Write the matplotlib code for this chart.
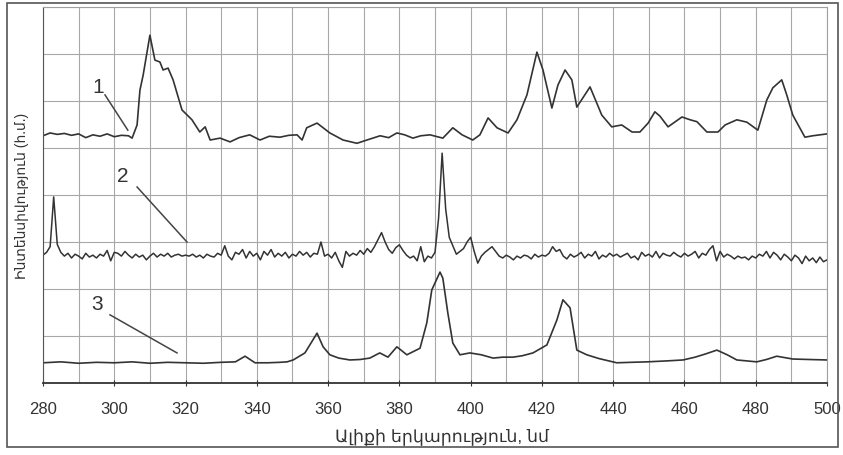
import numpy as np
import matplotlib
matplotlib.use("Agg")
import matplotlib.pyplot as plt
from matplotlib.patches import Rectangle

plt.rcParams['font.family'] = ['Liberation Sans', 'DejaVu Sans']

# Data

x_label = "Ալիքի երկարություն, նմ"
y_label = "Ինտենսիվություն (հ.մ.)"
x_ticks = [280, 300, 320, 340, 360, 380, 400, 420, 440, 460, 480, 500]

# curve 1
wl1 = [280, 282, 284, 286, 288, 290, 292, 294, 296, 298, 300, 302, 304, 305,
       306.4, 307.2, 308.1, 310, 311.4, 312.8, 313.7, 315.1, 316.5, 319, 321.8,
       324, 325.5, 326.9, 329.7, 332.5, 335, 338, 340.9, 343.5, 346.5, 349, 351.3,
       352.7, 354, 356.9, 360.5, 364.2, 368.1, 370.9, 374.6, 377, 379.3, 381.5,
       383.8, 386, 388.6, 392.2, 395, 397.6, 400.6, 402.6, 404.9, 407.4, 410.5,
       413, 415.8, 418.6, 420.3, 422.8, 424.5, 426.5, 428.4, 429.8, 433.5, 436.8,
       439.6, 442.4, 445.3, 447.5, 449.8, 451.7, 453.1, 455.4, 459.3, 461.6, 463.5,
       466.3, 469.4, 471.4, 474.7, 477.5, 480.6, 483.1, 484.8, 487.3, 488.7, 490.4,
       493.8, 496, 498, 500]
int1 = [5.26, 5.32, 5.29, 5.31, 5.27, 5.30, 5.22, 5.28, 5.25, 5.30, 5.24, 5.27, 5.26, 5.21,
        5.49, 6.23, 6.55, 7.40, 6.87, 6.83, 6.66, 6.70, 6.45, 5.81, 5.60,
        5.34, 5.45, 5.17, 5.21, 5.13, 5.22, 5.28, 5.17, 5.25, 5.23, 5.27, 5.28,
        5.17, 5.43, 5.53, 5.32, 5.17, 5.10, 5.17, 5.26, 5.22, 5.32, 5.28,
        5.21, 5.26, 5.28, 5.21, 5.43, 5.28, 5.17, 5.28, 5.64, 5.43, 5.32,
        5.60, 6.13, 7.04, 6.66, 5.85, 6.34, 6.66, 6.45, 5.87, 6.30, 5.70,
        5.45, 5.49, 5.34, 5.34, 5.53, 5.77, 5.68, 5.45, 5.66, 5.60, 5.56,
        5.34, 5.34, 5.49, 5.60, 5.55, 5.38, 6.02, 6.28, 6.45, 6.13, 5.70,
        5.23, 5.26, 5.28, 5.30]

# curve 2 (1 nm step)
wl2 = list(range(280, 501))
int2 = [2.72, 2.78, 2.90, 3.96, 2.95, 2.78, 2.70, 2.76, 2.66, 2.74, 2.70, 2.64, 2.76, 2.68, 2.72, 2.66, 2.74, 2.70, 2.82, 2.60, 2.78,
        2.76, 2.70, 2.80, 2.72, 2.66, 2.74, 2.68, 2.72, 2.62, 2.70, 2.76, 2.68, 2.74, 2.70, 2.76, 2.68, 2.72, 2.74, 2.70, 2.72,
        2.70, 2.74, 2.68, 2.72, 2.66, 2.74, 2.70, 2.68, 2.76, 2.72, 2.92, 2.70, 2.62, 2.78, 2.74, 2.84, 2.66, 2.80, 2.70, 2.76,
        2.62, 2.80, 2.72, 2.84, 2.68, 2.76, 2.70, 2.78, 2.66, 2.74, 2.70, 2.80, 2.72, 2.78, 2.68, 2.76, 2.74, 3.00, 2.70, 2.74,
        2.66, 2.78, 2.60, 2.46, 2.80, 2.70, 2.76, 2.72, 2.82, 2.74, 2.86, 2.78, 2.90, 3.05, 3.20, 3.00, 2.84, 2.76, 2.88, 2.94,
        2.82, 2.72, 2.66, 2.70, 2.60, 2.90, 2.58, 2.70, 2.66, 2.78, 3.50, 4.89, 3.70, 3.10, 2.92, 2.74, 2.80, 2.86, 3.00, 3.10,
        2.80, 2.55, 2.70, 2.78, 2.84, 2.90, 2.80, 2.70, 2.66, 2.72, 2.68, 2.62, 2.70, 2.66, 2.72, 2.70, 2.64, 2.74, 2.68, 2.72,
        2.70, 2.76, 2.90, 2.80, 2.84, 2.70, 2.64, 2.74, 2.68, 2.72, 2.78, 2.66, 2.74, 2.70, 2.80, 2.64, 2.72, 2.68, 2.76, 2.70,
        2.74, 2.68, 2.72, 2.76, 2.66, 2.70, 2.62, 2.78, 2.70, 2.74, 2.68, 2.80, 2.66, 2.76, 2.72, 2.70, 2.78, 2.72, 2.68, 2.76,
        2.70, 2.74, 2.80, 2.66, 2.76, 2.72, 2.84, 2.92, 2.60, 2.80, 2.68, 2.74, 2.70, 2.64, 2.70, 2.66, 2.68, 2.62, 2.70, 2.66,
        2.74, 2.70, 2.80, 2.66, 2.78, 2.72, 2.62, 2.74, 2.68, 2.60, 2.72, 2.66, 2.54, 2.70, 2.60, 2.66, 2.56, 2.68, 2.58, 2.62]

# curve 3
wl3 = [280, 285, 290, 295, 300, 305, 310, 315, 320, 325, 330, 334, 336.7, 339.5,
       343, 346.5, 348.5, 350.2, 353.5, 356.9, 358.6, 360.5, 363, 366.1, 369, 371.7,
       374.5, 376.8, 379.3, 382.1, 385.8, 387.7, 389.1, 391.4, 392.2, 393.6, 395,
       397, 399.8, 403, 406.3, 409, 411.9, 414.5, 417.5, 421.4, 424.2, 425.9, 427.9,
       429.8, 432.6, 436, 441, 445, 449.5, 455, 459.6, 463, 466, 469.1, 472,
       474.7, 480.3, 483, 485.9, 490.4, 495, 500]
int3 = [0.43, 0.45, 0.42, 0.44, 0.43, 0.45, 0.42, 0.44, 0.43, 0.42, 0.44, 0.45, 0.57, 0.43,
        0.43, 0.44, 0.45, 0.49, 0.64, 1.06, 0.77, 0.60, 0.53, 0.49, 0.50, 0.53,
        0.64, 0.55, 0.77, 0.60, 0.74, 1.28, 1.98, 2.36, 2.23, 1.49, 0.85,
        0.60, 0.64, 0.60, 0.53, 0.55, 0.55, 0.58, 0.64, 0.81, 1.34, 1.77, 1.60,
        0.70, 0.60, 0.52, 0.43, 0.44, 0.45, 0.47, 0.49, 0.55, 0.62, 0.70, 0.60,
        0.49, 0.45, 0.50, 0.57, 0.51, 0.50, 0.49]

labels = ["1", "2", "3"]
label_pos = [(295.5, 6.28), (302.5, 4.40), (295.2, 1.66)]
line_from = [(297.4, 6.13), (306.4, 4.17), (298.8, 1.45)]
line_to = [(303.8, 5.38), (320.4, 3.00), (317.6, 0.64)]

# Figure

fig = plt.figure(figsize=(8.43, 4.55), dpi=100)
ax = fig.add_axes([43 / 843, 72 / 455, 784 / 843, 376 / 455])

line_color = "#333333"
ax.plot(wl1, int1, color=line_color, lw=1.2)
ax.plot(wl2, int2, color=line_color, lw=1.1)
ax.plot(wl3, int3, color=line_color, lw=1.2)

for lab, p, a, b in zip(labels, label_pos, line_from, line_to):
    ax.text(p[0], p[1], lab, fontsize=15, color="#333333", ha="center", va="center")
    ax.plot([a[0], b[0]], [a[1], b[1]], color="#444444", lw=1.1)

ax.set_xlim(280, 500)
ax.set_ylim(0, 8)
ax.set_xticks(x_ticks)
ax.set_xticks(np.arange(280, 501, 10), minor=True)
ax.set_yticks(np.arange(0, 9, 1))
ax.set_yticklabels([])
ax.grid(True, which="both", color="#a8a8a8", lw=0.8)
ax.tick_params(axis="x", which="major", labelsize=12, pad=12, length=4,
               direction="inout", colors="#333333")
ax.tick_params(axis="x", which="minor", length=0)
ax.tick_params(axis="y", length=0)

for s in ["top", "right"]:
    ax.spines[s].set_color("#a0a0a0")
ax.spines["left"].set_color("#555555")
ax.spines["bottom"].set_color("#333333")
ax.spines["bottom"].set_linewidth(1.3)

fig.text(442 / 843, 1 - 437 / 455, x_label, fontsize=12.5, color="#333333",
         ha="center", va="center")
fig.text(22 / 843, 1 - 196 / 455, y_label, rotation=90, fontsize=10,
         color="#333333", ha="center", va="center")

# outer frame of the scanned figure
fig.add_artist(Rectangle((7 / 843, 8 / 455), 831 / 843, 444 / 455,
                         transform=fig.transFigure, fill=False,
                         ec="#555555", lw=1.2))

fig.savefig("out.png", dpi=100)
